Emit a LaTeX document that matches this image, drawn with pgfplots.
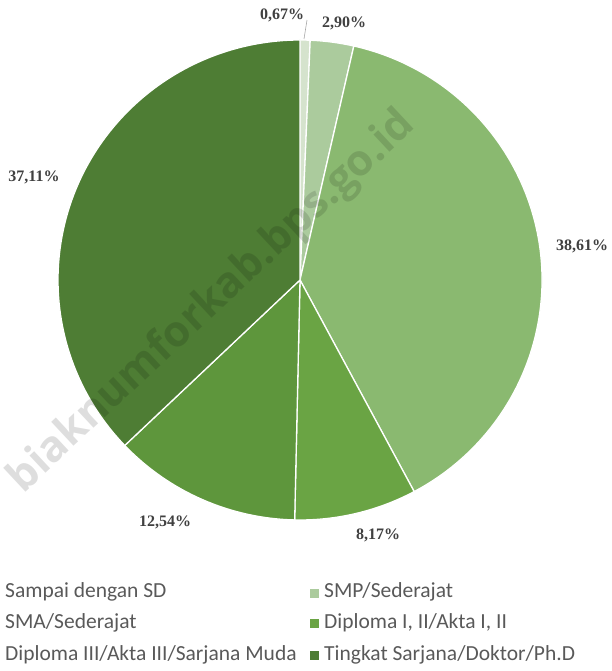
\documentclass[border=0pt]{standalone}
\usepackage{fontspec}
\setmainfont{Liberation Serif}
\newfontfamily\legendfont{Carlito}
\newfontfamily\wmfont{Open Sans}
\usepackage{pgfplots}
\usepackage{pgfplotstable}
\pgfplotsset{compat=1.18}

\definecolor{pie0}{HTML}{D5E3CD}
\definecolor{pie1}{HTML}{ABCB9D}
\definecolor{pie2}{HTML}{8AB970}
\definecolor{pie3}{HTML}{6AA444}
\definecolor{pie4}{HTML}{5E963C}
\definecolor{pie5}{HTML}{4E7D34}
\definecolor{lbl}{HTML}{404040}
\definecolor{legtxt}{HTML}{595959}

% share (%) and where the label sits (pixel coords, y up)
\pgfplotstableread{
pct   lx   ly
0.67  282  656
2.90  344  648
38.61 582  425
8.17  378  136
12.54 165  149
37.11 34   494
}\pietable

\begin{document}
\begin{tikzpicture}
% start/end angles of each slice, clockwise from the top
\xdef\cum{0}
\foreach \i in {0,...,5}{
  \pgfplotstablegetelem{\i}{pct}\of\pietable
  \let\val\pgfplotsretval
  \pgfmathsetmacro\a{90-3.6*\cum}
  \pgfmathsetmacro\c{\cum+\val}
  \pgfmathsetmacro\b{90-3.6*\c}
  \pgfmathsetmacro\sx{300+242*cos(\a)}
  \pgfmathsetmacro\sy{391+240*sin(\a)}
  \expandafter\xdef\csname sa\i\endcsname{\a}
  \expandafter\xdef\csname ea\i\endcsname{\b}
  \expandafter\xdef\csname sx\i\endcsname{\sx}
  \expandafter\xdef\csname sy\i\endcsname{\sy}
  \xdef\cum{\c}
}
\begin{axis}[
  width=612pt, height=671pt, scale only axis,
  xmin=0, xmax=612, ymin=0, ymax=671,
  hide axis, clip=false,
]
\pgfplotsinvokeforeach{0,...,5}{
  \addplot[fill=pie#1, draw=white, line width=1.3pt] coordinates {(300,391)}
    -- (\csname sx#1\endcsname,\csname sy#1\endcsname)
    arc[start angle=\csname sa#1\endcsname, end angle=\csname ea#1\endcsname,
        x radius=242pt, y radius=240pt] -- cycle;
}
% percentage labels
\addplot[draw=none, mark=none, point meta=explicit,
  nodes near coords={\pgfmathprintnumber[fixed,fixed zerofill,precision=2,use comma,assume math mode=true]{\pgfplotspointmeta}\%},
  every node near coord/.append style={anchor=center, inner sep=0pt,
    text=lbl, font=\bfseries\fontsize{16}{18}\selectfont}]
  table[x=lx, y=ly, meta=pct] {\pietable};
\draw[gray!70, line width=0.6pt] (axis cs:307,651) -- (axis cs:304,632);

% legend (left column markers fall outside the picture)
\addplot[only marks, mark=square*, mark size=4.2pt, color=pie1] coordinates {(314,78)};
\addplot[only marks, mark=square*, mark size=4.2pt, color=pie3] coordinates {(314,48)};
\addplot[only marks, mark=square*, mark size=4.2pt, color=pie5] coordinates {(314,16)};
\begin{scope}[every node/.style={anchor=west, inner sep=0pt, text=legtxt,
    font=\legendfont\fontsize{21.5}{24}\selectfont}]
\node at (axis cs:5,79) {Sampai dengan SD};
\node at (axis cs:5,48) {SMA/Sederajat};
\node at (axis cs:5,16) {Diploma III/Akta III/Sarjana Muda};
\node at (axis cs:324,79) {SMP/Sederajat};
\node at (axis cs:324,48) {Diploma I, II/Akta I, II};
\node at (axis cs:324,16) {Tingkat Sarjana/Doktor/Ph.D};
\end{scope}

% watermark
\node[rotate=43, anchor=base east, inner sep=0pt, text=black, text opacity=0.13,
  font=\wmfont\bfseries\fontsize{43}{43}\selectfont] at (axis cs:417,544)
  {biaknumforkab.bps.go.id};

\coordinate (bl) at (axis cs:0,0);
\coordinate (tr) at (axis cs:612,671);
\end{axis}
\pgfresetboundingbox
\path (bl) rectangle (tr);
\end{tikzpicture}
\end{document}
